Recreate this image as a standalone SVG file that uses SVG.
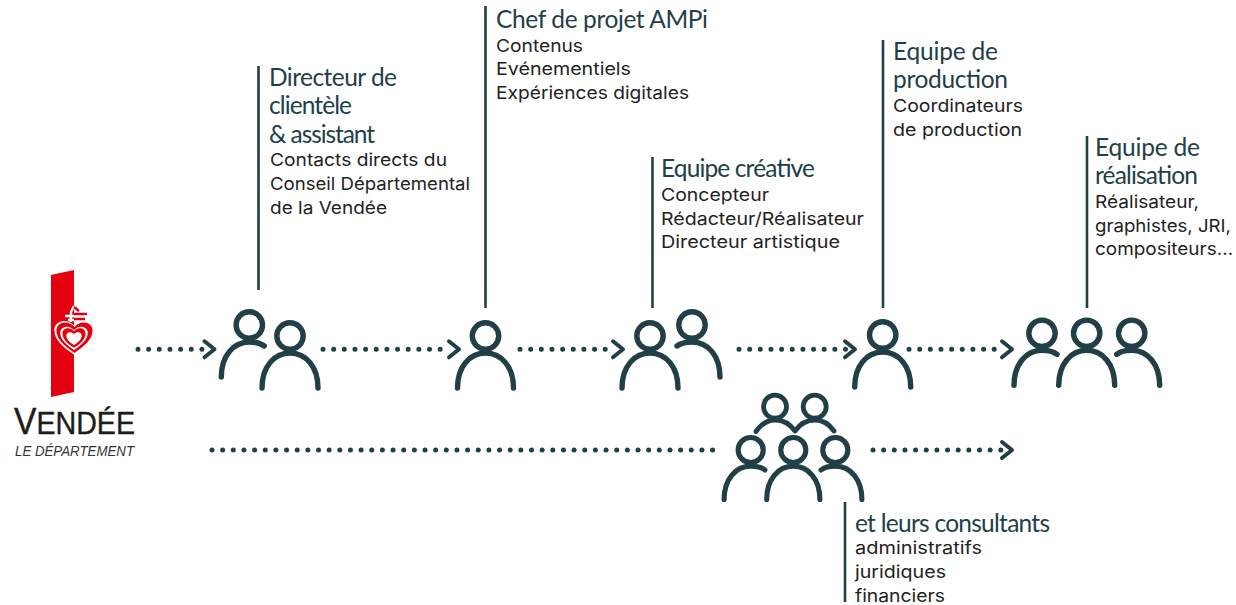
<svg xmlns="http://www.w3.org/2000/svg" width="1236" height="605" viewBox="0 0 1236 605">
<style>
.ln{fill:none;stroke:#213f47;stroke-linecap:round;stroke-linejoin:round}
.ic{stroke-width:5.4}
.bar{stroke-width:2.6;stroke-linecap:butt}
.dot{stroke-width:5;stroke-dasharray:0 10.65}
.chev{stroke-width:4}
.h{font-family:"Lato","Liberation Sans",sans-serif;font-size:24.500px;fill:#213f47}
.b{font-family:"Inter","Liberation Sans",sans-serif;font-size:17.500px;fill:#222}
</style>
<defs>
<g id="head"><circle cx="0" cy="0" r="13.200" class="ln ic"/></g>
<g id="full"><use href="#head"/><path class="ln ic" d="M-28 52C-28 31-16 17 0 17C16 17 28 31 28 52"/></g>
<g id="left"><use href="#head"/><path class="ln ic" d="M-28 52C-28 31-16 17 0 17C6 17 11 18 15 21"/></g>
<g id="right"><use href="#head"/><path class="ln ic" d="M28 52C28 31 16 17 0 17C-6 17-11 18-15 21"/></g>
<path id="chevron" class="ln chev" d="M-10-8L0 0L-10 8"/>
<path id="heart" d="M0 15C-9 9-16 3-16-5C-16-12-6-15 0-8C6-15 16-12 16-5C16 3 9 9 0 15Z"/>
</defs>
<g id="logo">
<path fill="#e3000f" d="M51 275L74 270V392L51 397Z"/>
<path fill="none" stroke="#fff" stroke-width="2.400" d="M74 306L71 312V322M65 316H74M68 320H74"/>
<path fill="none" stroke="#e3000f" stroke-width="2.400" d="M74 307L79 311M74 314H87M74 319H85"/>
<use href="#heart" transform="translate(74.500 336) scale(1.260)" fill="#fff"/>
<use href="#heart" transform="translate(74.500 336) scale(1.130)" fill="#e3000f"/>
<use href="#heart" transform="translate(74 337) scale(.860)" fill="#fff"/>
<use href="#heart" transform="translate(74 337) scale(.720)" fill="#e3000f"/>
<use href="#heart" transform="translate(74 338) scale(.480)" fill="#fff"/>
<text x="14" y="434.300" font-family="Liberation Sans,sans-serif" font-size="31.500" fill="#1d1d1b" stroke="#1d1d1b" stroke-width=".4" textLength="121" lengthAdjust="spacingAndGlyphs"><tspan font-size="37">V</tspan>ENDÉE</text>
<text x="15" y="456" font-family="Liberation Sans,sans-serif" font-size="15" font-style="italic" fill="#333" textLength="119" lengthAdjust="spacingAndGlyphs">LE DÉPARTEMENT</text>
</g>
<g id="connectors">
<path class="ln dot" d="M138 349.300H205"/><use href="#chevron" x="214.500" y="349.300"/>
<path class="ln dot" d="M323 349.300H450"/><use href="#chevron" x="459" y="349.300"/>
<path class="ln dot" d="M520 349.300H614"/><use href="#chevron" x="623" y="349.300"/>
<path class="ln dot" d="M739 349.300H846"/><use href="#chevron" x="855" y="349.300"/>
<path class="ln dot" d="M909 349.300H1003"/><use href="#chevron" x="1012" y="349.300"/>
<path class="ln dot" d="M212 450H714"/>
<path class="ln dot" d="M873 450H1003"/><use href="#chevron" x="1012" y="450"/>
</g>
<g id="node-directeur">
<path class="ln bar" d="M258.500 66V290"/>
<use href="#left" x="249.300" y="325"/><use href="#full" x="290" y="336"/>
<text class="h" x="269" y="86" textLength="128">Directeur de</text><text class="h" x="269" y="114" textLength="83">clientèle</text><text class="h" x="269" y="143" textLength="106">&amp; assistant</text>
<text class="b" lengthAdjust="spacingAndGlyphs" x="270" y="166" textLength="177">Contacts directs du</text><text class="b" lengthAdjust="spacingAndGlyphs" x="270" y="190" textLength="200">Conseil Départemental</text><text class="b" lengthAdjust="spacingAndGlyphs" x="270" y="214" textLength="117">de la Vendée</text>
</g>
<g id="node-chef">
<path class="ln bar" d="M485.500 6V308"/>
<use href="#full" x="485.500" y="336"/>
<text class="h" x="496" y="28" textLength="212">Chef de projet AMPi</text>
<text class="b" lengthAdjust="spacingAndGlyphs" x="496" y="52" textLength="87">Contenus</text><text class="b" lengthAdjust="spacingAndGlyphs" x="496" y="75" textLength="135">Evénementiels</text><text class="b" lengthAdjust="spacingAndGlyphs" x="496" y="99" textLength="193">Expériences digitales</text>
</g>
<g id="node-creative">
<path class="ln bar" d="M652.500 157V308"/>
<use href="#full" x="650" y="336"/><use href="#right" x="692" y="325"/>
<text class="h" x="661" y="177" textLength="154">Equipe créative</text>
<text class="b" lengthAdjust="spacingAndGlyphs" x="661" y="201" textLength="108">Concepteur</text><text class="b" lengthAdjust="spacingAndGlyphs" x="661" y="225" textLength="203">Rédacteur/Réalisateur</text><text class="b" lengthAdjust="spacingAndGlyphs" x="661" y="248" textLength="179">Directeur artistique</text>
</g>
<g id="node-production">
<path class="ln bar" d="M883 40V308"/>
<use href="#full" x="882.700" y="335"/>
<text class="h" x="893" y="60" textLength="105">Equipe de</text><text class="h" x="893" y="88" textLength="115">production</text>
<text class="b" lengthAdjust="spacingAndGlyphs" x="893" y="112" textLength="130">Coordinateurs</text><text class="b" lengthAdjust="spacingAndGlyphs" x="893" y="136" textLength="129">de production</text>
</g>
<g id="node-realisation">
<path class="ln bar" d="M1087 136V308"/>
<use href="#left" x="1042" y="333.300"/><use href="#full" x="1086.700" y="333.300"/><use href="#right" x="1131.700" y="333.300"/>
<text class="h" x="1095" y="156" textLength="105">Equipe de</text><text class="h" x="1095" y="184" textLength="103">réalisation</text>
<text class="b" lengthAdjust="spacingAndGlyphs" x="1095" y="208" textLength="104">Réalisateur,</text><text class="b" lengthAdjust="spacingAndGlyphs" x="1095" y="232" textLength="136">graphistes, JRI,</text><text class="b" lengthAdjust="spacingAndGlyphs" x="1095" y="255" textLength="138">compositeurs…</text>
</g>
<g id="node-consultants">
<path class="ln bar" d="M845 502V602"/>
<circle cx="775" cy="406.700" r="11.500" class="ln" stroke-width="4.800"/><circle cx="814.700" cy="406.700" r="11.500" class="ln" stroke-width="4.800"/>
<path class="ln" stroke-width="4.800" d="M756 431.500C762 423 768 420 775 420C783 420 790 424 795 431C800 424 807 420 815 420C822 420 829 424 834 431"/>
<use href="#left" transform="translate(750.700 450) scale(.950)"/><use href="#full" transform="translate(793.300 450) scale(.950)"/><use href="#right" transform="translate(835.300 450) scale(.950)"/>
<text class="h" x="855" y="532" textLength="195">et leurs consultants</text>
<text class="b" lengthAdjust="spacingAndGlyphs" x="855" y="554" textLength="127">administratifs</text><text class="b" lengthAdjust="spacingAndGlyphs" x="855" y="578" textLength="91">juridiques</text><text class="b" lengthAdjust="spacingAndGlyphs" x="855" y="602" textLength="90">financiers</text>
</g>
</svg>
